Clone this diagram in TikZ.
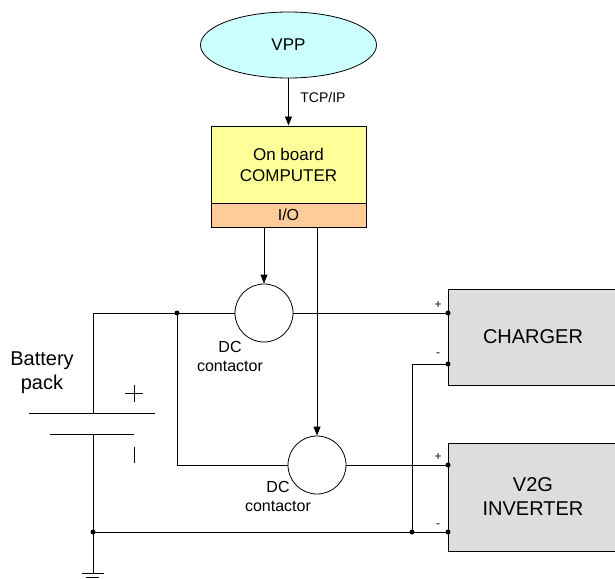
\documentclass[tikz,border=0pt]{standalone}
\usepackage{fontspec}
\setmainfont{Liberation Sans}
\usetikzlibrary{shapes.geometric,arrows.meta}
\definecolor{vppcyan}{RGB}{204,255,255}
\definecolor{compyellow}{RGB}{255,255,153}
\definecolor{ioorange}{RGB}{255,204,153}
\definecolor{unitgray}{RGB}{221,221,221}

\begin{document}
\begin{tikzpicture}[x=1pt,y=-1pt,line width=0.8pt]
\tikzstyle{every node}+=[inner sep=0pt]
\tikzstyle{unitbox}=[draw=black,line width=1pt,fill=unitgray,minimum width=170pt,align=center,font=\fontsize{20}{24}\selectfont]
\tikzstyle{contactor}=[circle,draw=black,minimum size=58pt]
\tikzstyle{sig}=[-{Triangle[length=9pt,width=7pt]}]
\tikzstyle{pole}=[font=\fontsize{12}{14}\selectfont]
\tikzstyle{lbl}=[align=center,font=\fontsize{16}{19}\selectfont]
\useasboundingbox (0,0) rectangle (615,578);
\node [ellipse,draw=black,fill=vppcyan,minimum width=176pt,minimum height=66pt,font=\fontsize{17}{20}\selectfont] (vpp) at (288.5,45) {VPP};
\node [draw=black,line width=1pt,fill=compyellow,minimum width=155pt,minimum height=77pt,align=center,font=\fontsize{17}{21}\selectfont] (comp) at (288.5,164.5) {On board\\COMPUTER};
\node [draw=black,line width=1pt,fill=ioorange,minimum width=155pt,minimum height=24pt,font=\fontsize{16}{19}\selectfont] (io) at (288.5,215) {I/O};
\node [anchor=west,font=\fontsize{14}{16}\selectfont] (tcp) at (300,97) {TCP/IP};
\node [contactor] (con1) at (264,313) {};
\node [contactor] (con2) at (317,465) {};
\node [lbl] (lbl1) at (230,356) {DC\\contactor};
\node [lbl] (lbl2) at (278,496) {DC\\contactor};
\node [unitbox,minimum height=96pt] (chg) at (533,337) {CHARGER};
\node [unitbox,minimum height=108pt] (inv) at (533,497) {V2G\\INVERTER};
\node [align=center,font=\fontsize{20}{24}\selectfont] (batt) at (42,373) {Battery\\pack};
\coordinate (btop) at (93,413);
\coordinate (bbot) at (93,434);
\coordinate (gnd) at (93,573);
\coordinate (jA) at (177,313);
\coordinate (jB) at (93,532);
\coordinate (jC) at (412,532);
\coordinate (chgp) at (448,313);
\coordinate (chgm) at (448,364);
\coordinate (invp) at (448,465);
\coordinate (invm) at (448,532);
\draw [sig] (vpp) -- (comp);
\draw [sig] (con1 |- io.south) -- (con1.north);
\draw [sig] (con2 |- io.south) -- (con2.north);
\draw (btop) |- (con1.west);
\draw (con1.east) -- (chgp);
\draw (jA) |- (con2.west);
\draw (con2.east) -- (invp);
\draw (bbot) -- (gnd);
\draw (jB) -- (invm);
\draw (chgm) -| (jC);
\draw (29,413) -- (155,413);
\draw (50,434) -- (134,434);
\draw (125,393) -- (143,393);
\draw (134,385) -- (134,402);
\draw (134,447) -- (134,463);
\draw (82,573) -- (104,573);
\draw (86,577) -- (99,577);
\foreach \p in {jA,jB,jC,chgp,chgm,invp,invm}
  \fill (\p) circle (2.5pt);
\node [pole] at (438,305) {+};
\node [pole] at (438,355) {-};
\node [pole] at (438,457) {+};
\node [pole] at (438,526) {-};
\end{tikzpicture}
\end{document}
